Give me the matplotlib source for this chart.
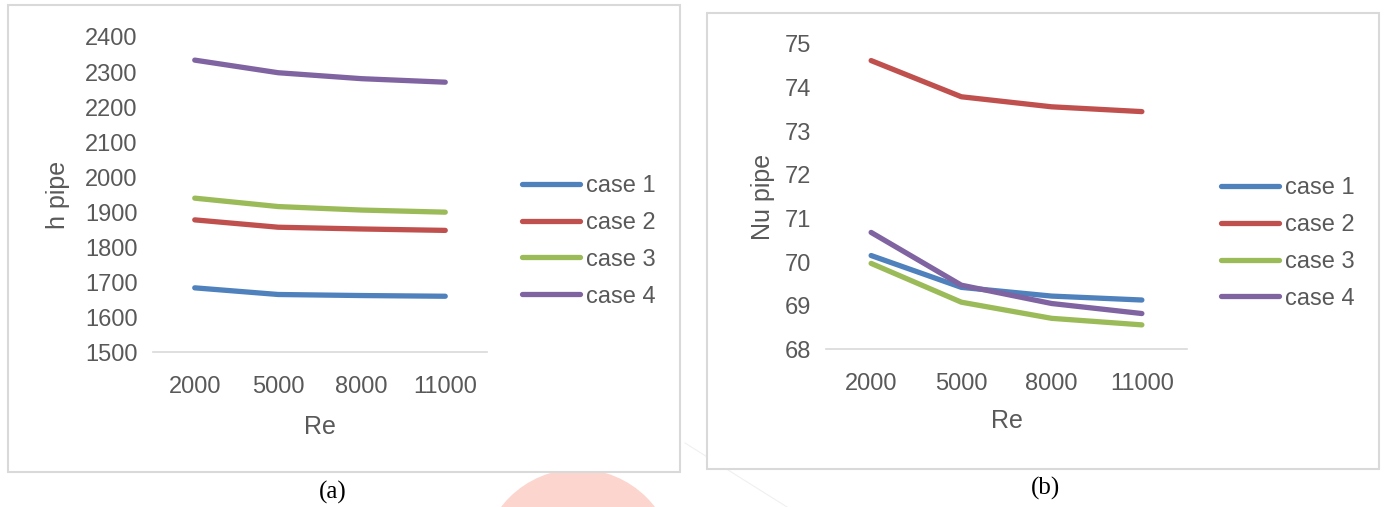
import numpy as np
import matplotlib
matplotlib.use("Agg")
import matplotlib.pyplot as plt
from matplotlib.patches import Rectangle, Ellipse
from matplotlib.lines import Line2D

# Reynolds numbers (categorical x axis)
re_labels = ["2000", "5000", "8000", "11000"]
case_names = ["case 1", "case 2", "case 3", "case 4"]
case_colors = ["#4F81BD", "#C0504D", "#9BBB59", "#8064A2"]

# (a) heat transfer coefficient of the pipe
h_case1 = [1684, 1665, 1662, 1660]
h_case2 = [1878, 1857, 1852, 1848]
h_case3 = [1940, 1916, 1906, 1900]
h_case4 = [2334, 2298, 2281, 2271]

# (b) Nusselt number of the pipe
nu_case1 = [70.15, 69.42, 69.22, 69.13]
nu_case2 = [74.62, 73.79, 73.56, 73.45]
nu_case3 = [69.97, 69.08, 68.71, 68.56]
nu_case4 = [70.68, 69.47, 69.05, 68.82]

W, H = 1384, 507
TEXT = "#595959"
GRID = "#d9d9d9"
plt.rcParams["font.family"] = ["Liberation Sans", "DejaVu Sans"]

fig = plt.figure(figsize=(W / 100, H / 100), dpi=100)


def px_rect(x0, y0, x1, y1):
    # pixel box (top-left origin) -> figure fraction rect
    return [x0 / W, (H - y1) / H, (x1 - x0) / W, (y1 - y0) / H]


# faint watermark behind the panels
fig.patches.append(Ellipse((578 / W, (H - 566) / H), 194 / W, 194 / H,
                           transform=fig.transFigure, facecolor="#fcd6ce",
                           edgecolor="none", zorder=-3))
fig.lines.append(Line2D([685 / W, 787 / W], [(H - 443) / H, (H - 507) / H],
                        transform=fig.transFigure, color="#f0f0f0", lw=0.8,
                        zorder=-3))

# panel frames
for x0, y0, x1, y1 in [(8, 5, 680, 472), (707, 13, 1379, 469)]:
    r = px_rect(x0, y0, x1, y1)
    fig.patches.append(Rectangle((r[0], r[1]), r[2], r[3], transform=fig.transFigure,
                                 facecolor="white", edgecolor=GRID, lw=1.5, zorder=-1))


def draw_panel(rect, series, ylim, yticks, ylabel, leg_anchor, ylabelpad, xlabelpad):
    ax = fig.add_axes(rect)
    ax.set_facecolor("none")
    x = np.arange(len(re_labels))
    for vals, name, col in zip(series, case_names, case_colors):
        ax.plot(x, vals, color=col, lw=3.8, solid_capstyle="round",
                solid_joinstyle="round", label=name)
    ax.set_xlim(-0.5, len(re_labels) - 0.5)
    ax.set_ylim(*ylim)
    ax.set_yticks(yticks)
    ax.set_xticks(x, re_labels)
    for side in ["top", "right", "left"]:
        ax.spines[side].set_visible(False)
    ax.spines["bottom"].set_color(GRID)
    ax.spines["bottom"].set_linewidth(1.2)
    ax.tick_params(axis="both", length=0, labelsize=17, labelcolor=TEXT)
    ax.tick_params(axis="y", pad=11)
    ax.tick_params(axis="x", pad=17)
    ax.set_xlabel("Re", fontsize=18, color=TEXT, labelpad=xlabelpad)
    ax.set_ylabel(ylabel, fontsize=18, color=TEXT, labelpad=ylabelpad)
    ax.legend(loc="center left", bbox_to_anchor=leg_anchor, frameon=False,
              fontsize=17, labelcolor=TEXT, handlelength=2.45, handletextpad=0.25,
              labelspacing=0.63, borderpad=0, borderaxespad=0)
    return ax


draw_panel(px_rect(153, 37, 487, 352.3), [h_case1, h_case2, h_case3, h_case4],
           (1500, 2400), np.arange(1500, 2401, 100), "h pipe", (1.105, 0.352), 11, 12)
draw_panel(px_rect(826, 44, 1187, 349.3), [nu_case1, nu_case2, nu_case3, nu_case4],
           (68, 75), np.arange(68, 76, 1), "Nu pipe", (1.094, 0.347), 7, 10)

fig.text(333 / W, (H - 492) / H, "(a)", ha="center", va="center",
         fontsize=18, family="Liberation Serif", color="black")
fig.text(1045 / W, (H - 488) / H, "(b)", ha="center", va="center",
         fontsize=18, family="Liberation Serif", color="black")

fig.savefig("out.png", dpi=100)
